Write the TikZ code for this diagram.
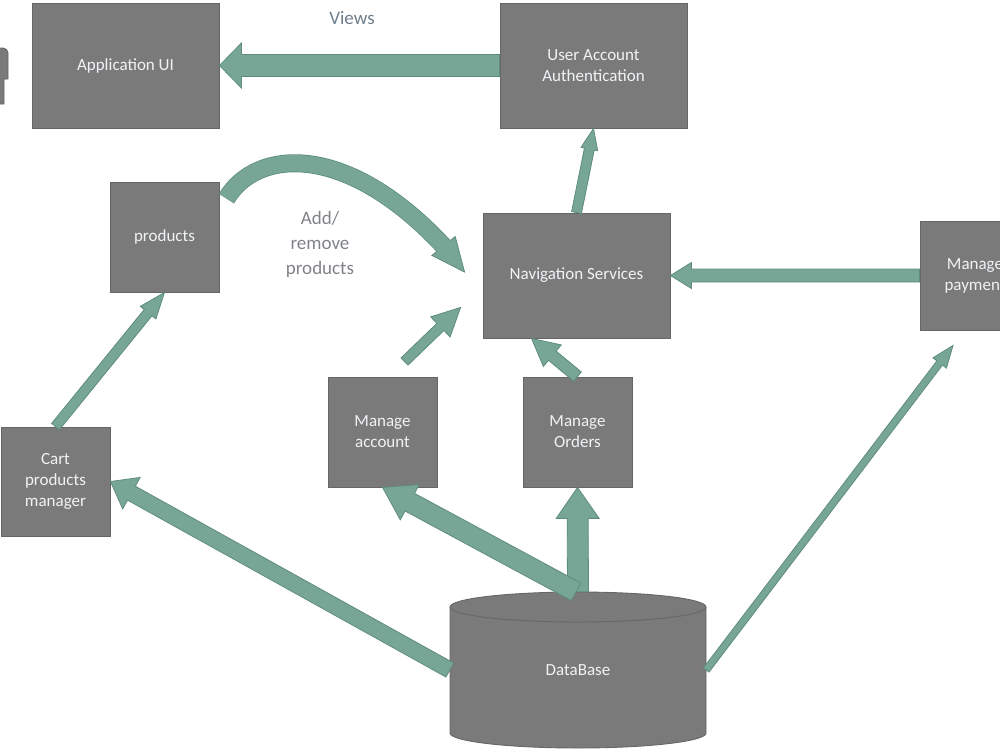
\documentclass[tikz,border=0pt]{standalone}
\usepackage{fontspec}
\setmainfont{Carlito}
\usetikzlibrary{calc}
\definecolor{boxfill}{HTML}{7A7A7A}
\definecolor{boxborder}{HTML}{666666}
\definecolor{boxtext}{HTML}{F0F3F6}
\definecolor{arrfill}{HTML}{78A696}
\definecolor{arrborder}{HTML}{5E8C7D}
\definecolor{lbl}{HTML}{7F8288}
\definecolor{viewlbl}{HTML}{6F7E8C}
\tikzset{
  box/.style={draw=boxborder, fill=boxfill, text=boxtext, line width=0.9pt,
    align=center, inner sep=0pt, font=\fontsize{17}{21}\selectfont},
  bigbox/.style={box, minimum width=187, minimum height=125},
  smallbox/.style={box, minimum width=109, minimum height=110},
  barrow/.style={fill=arrfill, draw=arrborder, line width=0.8pt, line join=miter},
  lbltext/.style={text=lbl, align=center, font=\fontsize{19}{25}\selectfont},
}
% block arrow: start, end, shaft half-width, head half-width, head length
\newcommand\blockarr[5]{%
  \path (#1) coordinate (bA) (#2) coordinate (bB);
  \path ($(bB)!#5!(bA)$) coordinate (bH);
  \draw[barrow] ($(bA)!#3!90:(bB)$) -- ($(bH)!#3!90:(bB)$) -- ($(bH)!#4!90:(bB)$)
    -- (bB) -- ($(bH)!#4!-90:(bB)$) -- ($(bH)!#3!-90:(bB)$) -- ($(bA)!#3!-90:(bB)$) -- cycle;
}
\begin{document}
\begin{tikzpicture}[x=1pt,y=-1pt]
\useasboundingbox (0,0) rectangle (1000,750);
\clip (0,0) rectangle (1000,750);

% partial shape at left edge
\draw[fill=boxfill, draw=boxborder, line width=0.9pt] (-3,104) -- (4,104) -- (4,79) -- (8,79) -- (8,53)
  arc[start angle=0, end angle=90, radius=5pt] -- (-3,48) -- cycle;

% boxes
\node[bigbox] (app) at (125.5,65.5) {Application UI};
\node[bigbox] (ua) at (593.5,65.5) {User Account\\Authentication};
\node[smallbox] (prod) at (164.5,237) {products};
\node[bigbox] (nav) at (576.5,275.5) {Navigation Services};
\node[smallbox, minimum width=110, minimum height=109] (pay) at (975,275.5) {Manage\\payment};
\node[smallbox, minimum height=109] (cart) at (55.5,481.5) {Cart\\products\\manager};
\node[smallbox] (ma) at (382.5,432) {Manage\\account};
\node[smallbox] (mo) at (577.5,432) {Manage\\Orders};

% database cylinder
\draw[fill=boxfill, draw=boxborder, line width=0.9pt] (450,607) -- (450,733)
  arc[start angle=180, end angle=360, x radius=128pt, y radius=15pt] -- (706,607)
  arc[start angle=0, end angle=180, x radius=128pt, y radius=15pt] -- cycle;
\draw[boxborder, line width=0.9pt] (450,607) arc[start angle=180, end angle=360, x radius=128pt, y radius=15pt];
\node[text=boxtext, font=\fontsize{17}{21}\selectfont, minimum width=256, minimum height=156, inner sep=0pt] (db) at (578,670) {DataBase};

% labels
\node[text=viewlbl, font=\fontsize{19}{25}\selectfont] (views) at (352,18) {Views};
\node[lbltext] (addrm) at (320,244) {Add/\\remove\\products};

% coordinates for free ends
\coordinate (maT) at ($(ma.north)+(22,-15)$);
\coordinate (maH) at ($(nav.south west)+(-22,-31)$);
\coordinate (moH) at ($(nav.south)+(-45,0)$);
\coordinate (payH) at ($(pay.south)+(-22,15)$);
\coordinate (dbN) at ($(db.north)+(-2,0)$);

% straight block arrows
\blockarr{ua.west}{app.east}{11pt}{22.5pt}{22pt}
\blockarr{cart.north}{prod.south}{5pt}{10pt}{26pt}
\blockarr{nav.north}{ua.south}{5pt}{8.5pt}{21pt}
\blockarr{maT}{maH}{5pt}{14pt}{28pt}
\blockarr{mo.north}{moH}{6pt}{14pt}{27pt}
\blockarr{pay.west}{nav.east}{6.5pt}{13pt}{21pt}
\blockarr{db.east}{payH}{3.5pt}{8.5pt}{22pt}
\blockarr{db.west}{cart.east}{8pt}{18pt}{24pt}
\blockarr{db.north}{mo.south}{10.5pt}{21.5pt}{31pt}
\blockarr{dbN}{ma.south}{10pt}{20pt}{31pt}

% curved arrow products -> navigation
\coordinate (cS) at ($(prod.north east)+(7,17)$);
\coordinate (cT) at ($(nav.west)+(-18,-3.5)$);
\coordinate (cH) at ($(cT)+(-21,-26)$);
\draw[arrborder, line width=18pt] (cS) .. controls +(29,-49) and +(-99,-106) .. (cH);
\draw[barrow] (cT) -- ($(cH)!15pt!90:(cT)$) -- ($(cH)!15pt!-90:(cT)$) -- cycle;
\draw[arrfill, line width=16.4pt] (cS) .. controls +(29,-49) and +(-99,-106) .. (cH) -- ($(cH)!1.5pt!(cT)$);
\end{tikzpicture}
\end{document}
